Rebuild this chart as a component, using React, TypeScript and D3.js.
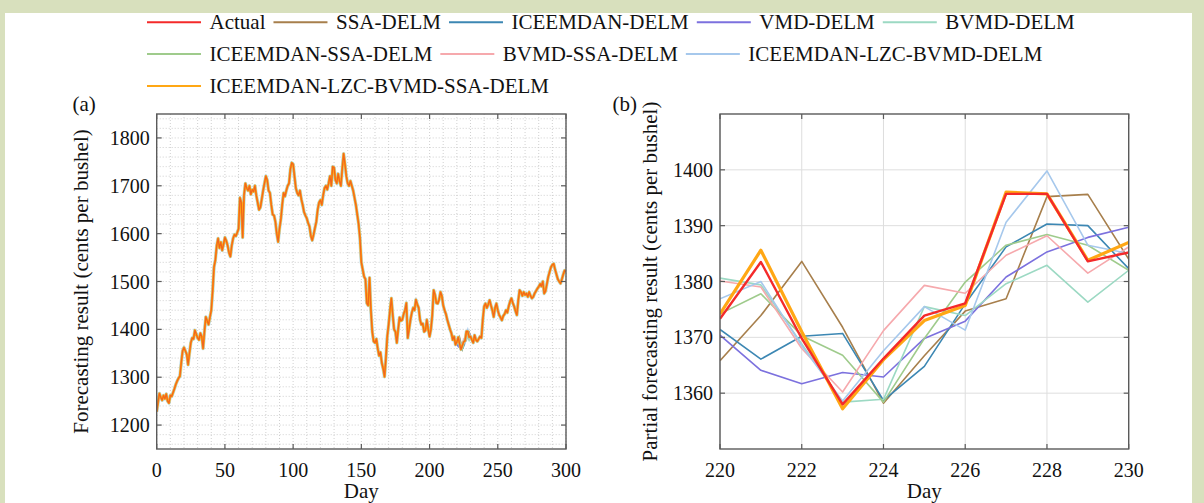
import React from 'react';
import * as d3 from 'd3';

const W = 1204;
const H = 503;
const FONT = '"Liberation Serif", "Times New Roman", Times, serif';

const seriesNames = [
  'Actual',
  'SSA-DELM',
  'ICEEMDAN-DELM',
  'VMD-DELM',
  'BVMD-DELM',
  'ICEEMDAN-SSA-DELM',
  'BVMD-SSA-DELM',
  'ICEEMDAN-LZC-BVMD-DELM',
  'ICEEMDAN-LZC-BVMD-SSA-DELM',
];
const seriesColors = [
  '#f42a2a',
  '#a77f4c',
  '#3c87b3',
  '#7c71de',
  '#9cd9c3',
  '#9fcb8c',
  '#f6a9ad',
  '#a6c8ec',
  '#ffa714',
];
// legend rows (indices into seriesNames)
const legendRows = [
  [0, 1, 2, 3, 4],
  [5, 6, 7],
  [8],
];

// (a) actual price, day 0..300
const actual = [
  1228, 1248, 1266, 1258, 1252, 1262, 1255, 1265, 1250, 1246,
  1262, 1260, 1268, 1276, 1285, 1292, 1298, 1302, 1330, 1355,
  1362, 1355, 1348, 1326, 1350, 1372, 1382, 1380, 1398, 1390,
  1382, 1378, 1392, 1385, 1360, 1395, 1426, 1418, 1410, 1425,
  1440, 1480, 1530, 1545, 1575, 1590, 1570, 1582, 1565, 1578,
  1592, 1585, 1575, 1560, 1552, 1575, 1590, 1598, 1595, 1602,
  1610, 1675, 1665, 1592, 1680, 1705, 1695, 1690, 1700, 1682,
  1692, 1688, 1700, 1680, 1665, 1650, 1655, 1672, 1690, 1705,
  1720, 1712, 1690, 1685, 1660, 1640, 1638, 1625, 1600, 1583,
  1610, 1630, 1660, 1685, 1678, 1690, 1700, 1705, 1735, 1748,
  1745, 1720, 1695, 1685, 1680, 1690, 1672, 1660, 1645, 1638,
  1632, 1622, 1615, 1595, 1586, 1598, 1612, 1625, 1650, 1665,
  1670, 1660, 1680, 1695, 1700, 1692, 1705, 1720, 1700, 1740,
  1738, 1712, 1705, 1725, 1710, 1700, 1735, 1767, 1745, 1720,
  1705, 1700, 1710, 1700, 1690, 1675, 1660, 1640, 1620, 1590,
  1540, 1525, 1510, 1505, 1455, 1450, 1508, 1440, 1395, 1375,
  1372, 1380, 1360, 1345, 1352, 1330, 1318, 1301, 1340, 1385,
  1410, 1440, 1465, 1430, 1400, 1395, 1372, 1400, 1425, 1418,
  1420, 1432, 1440, 1455, 1382, 1400, 1420, 1435, 1445, 1440,
  1462, 1452, 1445, 1420, 1410, 1412, 1395, 1398, 1420, 1400,
  1385, 1400, 1430, 1482, 1472, 1455, 1454, 1462, 1478, 1470,
  1450, 1440, 1432, 1420, 1410, 1400, 1392, 1378, 1385, 1368,
  1373.3, 1383.5, 1369.8, 1358, 1366.2, 1373.9, 1376.1, 1395.7, 1395.7, 1383.6,
  1385.2, 1378, 1372, 1388, 1378, 1375, 1380, 1385, 1382, 1420,
  1448, 1454, 1445, 1452, 1461, 1450, 1440, 1426, 1445, 1454,
  1440, 1430, 1425, 1419, 1428, 1432, 1440, 1435, 1448, 1458,
  1465, 1455, 1448, 1438, 1430, 1460, 1482, 1478, 1470, 1478,
  1472, 1475, 1468, 1478, 1470, 1465, 1468, 1475, 1480, 1485,
  1489, 1495, 1490, 1500, 1475, 1480, 1495, 1510, 1520, 1530,
  1535, 1537, 1525, 1515, 1505, 1500, 1496, 1505, 1515, 1523,
  1520,
];

// (b) partial window, days 220..230
const zoomDays = [220, 221, 222, 223, 224, 225, 226, 227, 228, 229, 230];
const zoomActual = [1373.3, 1383.5, 1369.8, 1358.0, 1366.2, 1373.9, 1376.1, 1395.7, 1395.7, 1383.6, 1385.2];
const ssaDelm = [1365.8, 1373.9, 1383.6, 1371.8, 1358.2, 1366.7, 1374.7, 1376.9, 1395.2, 1395.6, 1384.0];
const iceemdanDelm = [1371.4, 1366.1, 1370.2, 1370.7, 1358.7, 1364.8, 1376.0, 1386.2, 1390.3, 1390.0, 1382.3];
const vmdDelm = [1370.4, 1364.1, 1361.7, 1363.7, 1362.9, 1369.8, 1372.9, 1380.8, 1385.3, 1387.9, 1389.7];
const bvmdDelm = [1380.6, 1379.4, 1368.8, 1358.4, 1358.9, 1375.5, 1373.9, 1379.6, 1382.9, 1376.3, 1382.0];
const iceemdanSsaDelm = [1374.2, 1377.8, 1370.3, 1366.8, 1358.4, 1369.8, 1379.9, 1386.5, 1388.4, 1386.5, 1382.0];
const bvmdSsaDelm = [1380.1, 1379.0, 1368.0, 1360.2, 1371.2, 1379.3, 1377.9, 1384.7, 1388.2, 1381.5, 1386.2];
const lzcBvmdDelm = [1376.9, 1380.0, 1368.5, 1358.6, 1367.6, 1375.5, 1371.3, 1390.6, 1399.8, 1386.5, 1385.0];
const lzcBvmdSsaDelm = [1374.2, 1385.6, 1371.0, 1357.2, 1366.0, 1373.0, 1375.7, 1396.0, 1395.7, 1383.8, 1387.0];

const zoomSeries = [
  zoomActual, ssaDelm, iceemdanDelm, vmdDelm, bvmdDelm,
  iceemdanSsaDelm, bvmdSsaDelm, lzcBvmdDelm, lzcBvmdSsaDelm,
];

const aTicksX = [0, 50, 100, 150, 200, 250, 300];
const aTicksY = [1200, 1300, 1400, 1500, 1600, 1700, 1800];
const bTicksX = [220, 222, 224, 226, 228, 230];
const bTicksY = [1360, 1370, 1380, 1390, 1400];

// layout
const aBox = { left: 156.7, right: 566, top: 114, bottom: 449 };
const bBox = { left: 720, right: 1128.7, top: 114, bottom: 449 };
const axisColor = '#5a5a5a';
const tickLen = 5;

let measureCtx: CanvasRenderingContext2D | null = null;
function textWidth(s: string, size: number) {
  if (!measureCtx) measureCtx = document.createElement('canvas').getContext('2d');
  if (!measureCtx) return s.length * size * 0.5;
  measureCtx.font = `${size}px ${FONT}`;
  return measureCtx.measureText(s).width;
}

function Legend() {
  const rowY = [22.3, 54, 86];
  const x0 = 147;
  const lineW = 54;
  const items: React.ReactNode[] = [];
  legendRows.forEach((row, r) => {
    let x = x0;
    row.forEach((i) => {
      const y = rowY[r];
      items.push(
        <g key={i}>
          <line x1={x} x2={x + lineW} y1={y} y2={y} stroke={seriesColors[i]} strokeWidth={2} />
          <text x={x + lineW + 8.5} y={y + 7} fontSize={21} fontFamily={FONT} fill="#111">
            {seriesNames[i]}
          </text>
        </g>
      );
      x += lineW + 8.5 + textWidth(seriesNames[i], 21) + 8;
    });
  });
  return <g>{items}</g>;
}

function PanelA() {
  const x = d3.scaleLinear().domain([0, 300]).range([aBox.left, aBox.right]);
  const y = d3.scaleLinear().domain([1150, 1850]).range([aBox.bottom, aBox.top]);
  const line = d3.line<number>().x((_, i) => x(i)).y((d) => y(d));
  const zline = d3.line<number>().x((_, i) => x(zoomDays[i])).y((d) => y(d));
  const minorX = d3.range(0, 301, 10);
  const minorY = d3.range(1160, 1850, 20);
  return (
    <g>
      <defs>
        <clipPath id="clipA">
          <rect x={aBox.left} y={aBox.top} width={aBox.right - aBox.left} height={aBox.bottom - aBox.top} />
        </clipPath>
      </defs>
      {minorX.map((v) => (
        <line key={'gx' + v} x1={x(v)} x2={x(v)} y1={aBox.top} y2={aBox.bottom}
          stroke="#c4c4c4" strokeWidth={0.8} strokeDasharray="1 2" />
      ))}
      {minorY.map((v) => (
        <line key={'gy' + v} x1={aBox.left} x2={aBox.right} y1={y(v)} y2={y(v)}
          stroke="#c4c4c4" strokeWidth={0.8} strokeDasharray="1 2" />
      ))}
      <g clipPath="url(#clipA)">
        {zoomSeries.slice(1, 8).map((s, k) => (
          <path key={k} d={zline(s) || ''} fill="none" stroke={seriesColors[k + 1]} strokeWidth={1.4} />
        ))}
        <path d={line(actual) || ''} fill="none" stroke="#9fcfe0" strokeWidth={3.4} strokeLinejoin="round" opacity={0.8} />
        <path d={line(actual) || ''} fill="none" stroke={seriesColors[8]} strokeWidth={2.4} strokeLinejoin="round" />
        <path d={line(actual) || ''} fill="none" stroke="#f0651e" strokeWidth={1.2} strokeLinejoin="round" />
      </g>
      <rect x={aBox.left} y={aBox.top} width={aBox.right - aBox.left} height={aBox.bottom - aBox.top}
        fill="none" stroke={axisColor} strokeWidth={1.4} />
      {aTicksX.map((v) => (
        <g key={'tx' + v}>
          <line x1={x(v)} x2={x(v)} y1={aBox.bottom} y2={aBox.bottom - tickLen} stroke={axisColor} strokeWidth={1.2} />
          <line x1={x(v)} x2={x(v)} y1={aBox.top} y2={aBox.top + tickLen} stroke={axisColor} strokeWidth={1.2} />
          <text x={x(v)} y={476.7} textAnchor="middle" fontSize={20} fontFamily={FONT} fill="#111">{v}</text>
        </g>
      ))}
      {aTicksY.map((v) => (
        <g key={'ty' + v}>
          <line x1={aBox.left} x2={aBox.left + tickLen} y1={y(v)} y2={y(v)} stroke={axisColor} strokeWidth={1.2} />
          <line x1={aBox.right} x2={aBox.right - tickLen} y1={y(v)} y2={y(v)} stroke={axisColor} strokeWidth={1.2} />
          <text x={aBox.left - 7} y={y(v) + 7} textAnchor="end" fontSize={20} fontFamily={FONT} fill="#111">{v}</text>
        </g>
      ))}
      <text x={(aBox.left + aBox.right) / 2} y={497.5} textAnchor="middle" fontSize={21} fontFamily={FONT} fill="#111">Day</text>
      <text transform={`translate(88,${(aBox.top + aBox.bottom) / 2}) rotate(-90)`} textAnchor="middle"
        fontSize={21} fontFamily={FONT} fill="#111">Forecasting result (cents per bushel)</text>
      <text x={72.5} y={111} fontSize={21} fontFamily={FONT} fill="#111">(a)</text>
    </g>
  );
}

function PanelB() {
  const x = d3.scaleLinear().domain([220, 230]).range([bBox.left, bBox.right]);
  const y = d3.scaleLinear().domain([1350, 1410]).range([bBox.bottom, bBox.top]);
  const line = d3.line<number>().x((_, i) => x(zoomDays[i])).y((d) => y(d));
  const order = [1, 2, 3, 4, 5, 6, 7, 8, 0];
  const widths = [2.4, 1.6, 1.6, 1.6, 1.6, 1.6, 1.6, 1.6, 3.2];
  return (
    <g>
      <defs>
        <clipPath id="clipB">
          <rect x={bBox.left} y={bBox.top} width={bBox.right - bBox.left} height={bBox.bottom - bBox.top} />
        </clipPath>
      </defs>
      {bTicksX.map((v) => (
        <line key={'gx' + v} x1={x(v)} x2={x(v)} y1={bBox.top} y2={bBox.bottom} stroke="#dedede" strokeWidth={1} />
      ))}
      {bTicksY.map((v) => (
        <line key={'gy' + v} x1={bBox.left} x2={bBox.right} y1={y(v)} y2={y(v)} stroke="#dedede" strokeWidth={1} />
      ))}
      <g clipPath="url(#clipB)">
        {order.map((k) => (
          <path key={k} d={line(zoomSeries[k]) || ''} fill="none" stroke={seriesColors[k]}
            strokeWidth={widths[k]} strokeLinejoin="round" />
        ))}
      </g>
      <rect x={bBox.left} y={bBox.top} width={bBox.right - bBox.left} height={bBox.bottom - bBox.top}
        fill="none" stroke={axisColor} strokeWidth={1.4} />
      {bTicksX.map((v) => (
        <g key={'tx' + v}>
          <line x1={x(v)} x2={x(v)} y1={bBox.bottom} y2={bBox.bottom - tickLen} stroke={axisColor} strokeWidth={1.2} />
          <line x1={x(v)} x2={x(v)} y1={bBox.top} y2={bBox.top + tickLen} stroke={axisColor} strokeWidth={1.2} />
          <text x={x(v)} y={476.7} textAnchor="middle" fontSize={20} fontFamily={FONT} fill="#111">{v}</text>
        </g>
      ))}
      {bTicksY.map((v) => (
        <g key={'ty' + v}>
          <line x1={bBox.left} x2={bBox.left + tickLen} y1={y(v)} y2={y(v)} stroke={axisColor} strokeWidth={1.2} />
          <line x1={bBox.right} x2={bBox.right - tickLen} y1={y(v)} y2={y(v)} stroke={axisColor} strokeWidth={1.2} />
          <text x={bBox.left - 7} y={y(v) + 7} textAnchor="end" fontSize={20} fontFamily={FONT} fill="#111">{v}</text>
        </g>
      ))}
      <text x={(bBox.left + bBox.right) / 2} y={497.5} textAnchor="middle" fontSize={21} fontFamily={FONT} fill="#111">Day</text>
      <text transform={`translate(657,${(bBox.top + bBox.bottom) / 2}) rotate(-90)`} textAnchor="middle"
        fontSize={21} fontFamily={FONT} fill="#111">Partial forecasting result (cents per bushel)</text>
      <text x={612.5} y={111} fontSize={21} fontFamily={FONT} fill="#111">(b)</text>
    </g>
  );
}

export default function App() {
  return (
    <svg width={W} height={H} style={{ position: 'absolute', left: 0, top: 0 }}>
      <rect x={0} y={0} width={W} height={H} fill="#d8e0bd" />
      <rect x={5} y={13} width={1187} height={H} fill="#ffffff" />
      <Legend />
      <PanelA />
      <PanelB />
    </svg>
  );
}
